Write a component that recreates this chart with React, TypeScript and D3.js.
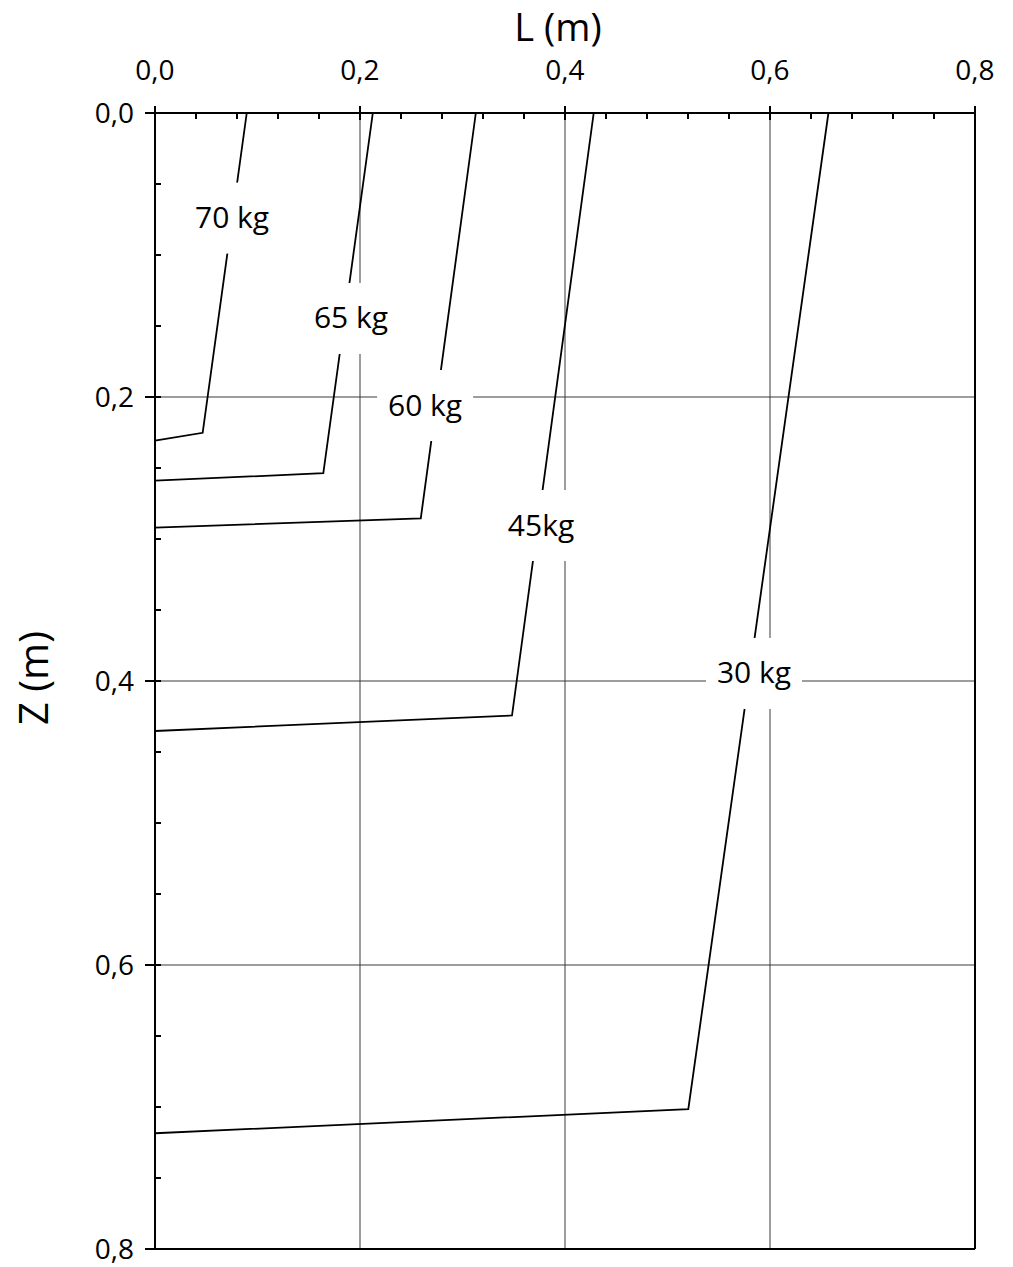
import React from "react";
import * as d3 from "d3";

// ---- data ----
const seriesLabels = ["70 kg", "65 kg", "60 kg", "45kg", "30 kg"];
const topL = [0.0895, 0.2125, 0.313, 0.428, 0.657];
const kneeL = [0.0465, 0.1642, 0.2593, 0.3483, 0.5203];
const kneeZ = [0.2252, 0.2537, 0.2855, 0.4243, 0.7015];
const endZ = [0.2308, 0.2589, 0.292, 0.4352, 0.7185];
const labelL = [0.0752, 0.1912, 0.2635, 0.3766, 0.5844];
const labelZ = [0.0740, 0.1447, 0.2060, 0.2905, 0.3947];

const xMajor = [0, 0.2, 0.4, 0.6, 0.8];
const yMajor = [0, 0.2, 0.4, 0.6, 0.8];
const xMinor = d3.range(0, 0.8001, 0.04).filter((v) => Math.abs(v / 0.2 - Math.round(v / 0.2)) > 1e-6);
const yMinor = d3.range(0, 0.8001, 0.05).filter((v) => Math.abs(v / 0.2 - Math.round(v / 0.2)) > 1e-6);
const gridVals = [0.2, 0.4, 0.6];

const W = 1013;
const H = 1267;
const left = 155;
const right = 975;
const top = 113;
const bottom = 1249;

const fmt = (v: number) => v.toFixed(1).replace(".", ",");
const FONT = "'Open Sans', 'Noto Sans', sans-serif";

export default function App() {
  const x = d3.scaleLinear().domain([0, 0.8]).range([left, right]);
  const y = d3.scaleLinear().domain([0, 0.8]).range([top, bottom]);
  const line = d3
    .line<[number, number]>()
    .x((d) => x(d[0]))
    .y((d) => y(d[1]));

  return (
    <svg
      width={W}
      height={H}
      style={{ position: "absolute", left: 0, top: 0, background: "#fff" }}
      fontFamily={FONT}
    >
      <rect x={0} y={0} width={W} height={H} fill="#fff" />
      {/* grid */}
      {gridVals.map((v) => (
        <line key={"gx" + v} x1={x(v)} x2={x(v)} y1={top} y2={bottom} stroke="#3a3a3a" strokeWidth={1} />
      ))}
      {gridVals.map((v) => (
        <line key={"gy" + v} x1={left} x2={right} y1={y(v)} y2={y(v)} stroke="#3a3a3a" strokeWidth={1} />
      ))}
      {/* data lines */}
      {seriesLabels.map((s, i) => (
        <path
          key={s}
          d={line([
            [topL[i], 0],
            [kneeL[i], kneeZ[i]],
            [0, endZ[i]],
          ]) as string}
          fill="none"
          stroke="#000"
          strokeWidth={1.8}
          strokeLinejoin="miter"
        />
      ))}
      {/* labels with white boxes */}
      {seriesLabels.map((s, i) => (
        <g key={"lab" + s}>
          <rect x={x(labelL[i]) - 48} y={y(labelZ[i]) - 35.5} width={96} height={71} fill="#fff" />
          <text
            x={x(labelL[i])}
            y={y(labelZ[i]) + 10}
            textAnchor="middle"
            fontSize={30}
            fill="#000"
          >
            {s}
          </text>
        </g>
      ))}
      {/* frame */}
      <line x1={left} x2={right} y1={top} y2={top} stroke="#000" strokeWidth={2} />
      <line x1={left} x2={left} y1={top} y2={bottom} stroke="#000" strokeWidth={2} />
      <line x1={left - 10} x2={right} y1={bottom} y2={bottom} stroke="#000" strokeWidth={2} />
      <line x1={right} x2={right} y1={top} y2={bottom} stroke="#000" strokeWidth={2} />
      {/* top axis ticks */}
      {xMajor.map((v) => (
        <line key={"xt" + v} x1={x(v)} x2={x(v)} y1={top - 7} y2={top + 7} stroke="#000" strokeWidth={2} />
      ))}
      {xMinor.map((v) => (
        <line key={"xm" + v} x1={x(v)} x2={x(v)} y1={top} y2={top + 6} stroke="#000" strokeWidth={2} />
      ))}
      {xMajor.map((v) => (
        <text key={"xl" + v} x={x(v)} y={80} textAnchor="middle" fontSize={28} fill="#000">
          {fmt(v)}
        </text>
      ))}
      {/* left axis ticks */}
      {yMajor.map((v) => (
        <line key={"yt" + v} x1={left - 10} x2={left + 6} y1={y(v)} y2={y(v)} stroke="#000" strokeWidth={2} />
      ))}
      {yMinor.map((v) => (
        <line key={"ym" + v} x1={left} x2={left + 6} y1={y(v)} y2={y(v)} stroke="#000" strokeWidth={2} />
      ))}
      {yMajor.map((v) => (
        <text key={"yl" + v} x={134} y={y(v) + 10} textAnchor="end" fontSize={28} fill="#000">
          {fmt(v)}
        </text>
      ))}
      {/* axis titles */}
      <text x={558} y={41} textAnchor="middle" fontSize={38} fill="#000">
        L (m)
      </text>
      <text
        transform={`translate(48, 678) rotate(-90)`}
        textAnchor="middle"
        fontSize={40}
        fill="#000"
      >
        Z (m)
      </text>
    </svg>
  );
}
